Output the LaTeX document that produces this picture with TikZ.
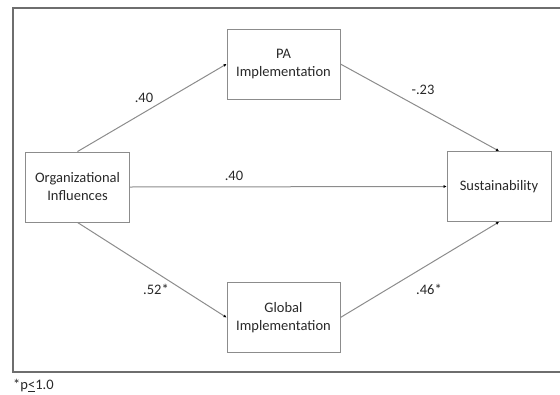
\documentclass[tikz,border=0pt]{standalone}
\usepackage{fontspec}
\setmainfont{Carlito}
\usetikzlibrary{arrows.meta, positioning}
\definecolor{linegray}{RGB}{140, 140, 140}
\definecolor{framegray}{RGB}{110, 110, 110}
\definecolor{textgray}{RGB}{40, 40, 40}

\begin{document}
\begin{tikzpicture}[x=1pt, y=-1pt,
  vbox/.style={draw=linegray, line width=0.9pt, minimum width=104pt, minimum height=70pt, align=center, inner sep=2pt, font=\fontsize{14.5}{18}\selectfont, text=textgray},
  path/.style={draw=linegray, line width=1pt, -{Latex[length=3pt, width=3pt, color=black]}},
  coef/.style={font=\fontsize{14.5}{17}\selectfont, text=textgray}
]
  \useasboundingbox (0, 0) rectangle (560, 394);
  \draw[framegray, line width=2pt] (600, 8) -- (13, 8) -- (13, 372) -- (600, 372);

  \node[vbox] (org) at (77.5, 187) {Organizational\\Influences};
  \node[vbox, minimum width=113pt] (pa) at (283.5, 64) {PA\\Implementation};
  \node[vbox, minimum width=113pt] (global) at (283.5, 317.5) {Global\\Implementation};
  \node[vbox] (sust) at (499, 186.5) {Sustainability};

  \draw[path] (org.north) -- (pa.west);
  \draw[path] (org.east) -- (sust.west);
  \draw[path] (org.south) -- (global.west);
  \draw[path] (pa.east) -- (sust.north);
  \draw[path] (global.east) -- (sust.south);

  \node[coef] (c1) at (144, 98) {.40};
  \node[coef] (c2) at (234, 176) {.40};
  \node[coef] (c3) at (423, 90) {-.23};
  \node[coef] (c4) at (156, 289) {.52*};
  \node[coef] (c5) at (429, 289) {.46*};

  \node[coef, anchor=west, inner sep=0pt] (note) at (13, 386) {*p\underline{<}1.0};
\end{tikzpicture}
\end{document}
